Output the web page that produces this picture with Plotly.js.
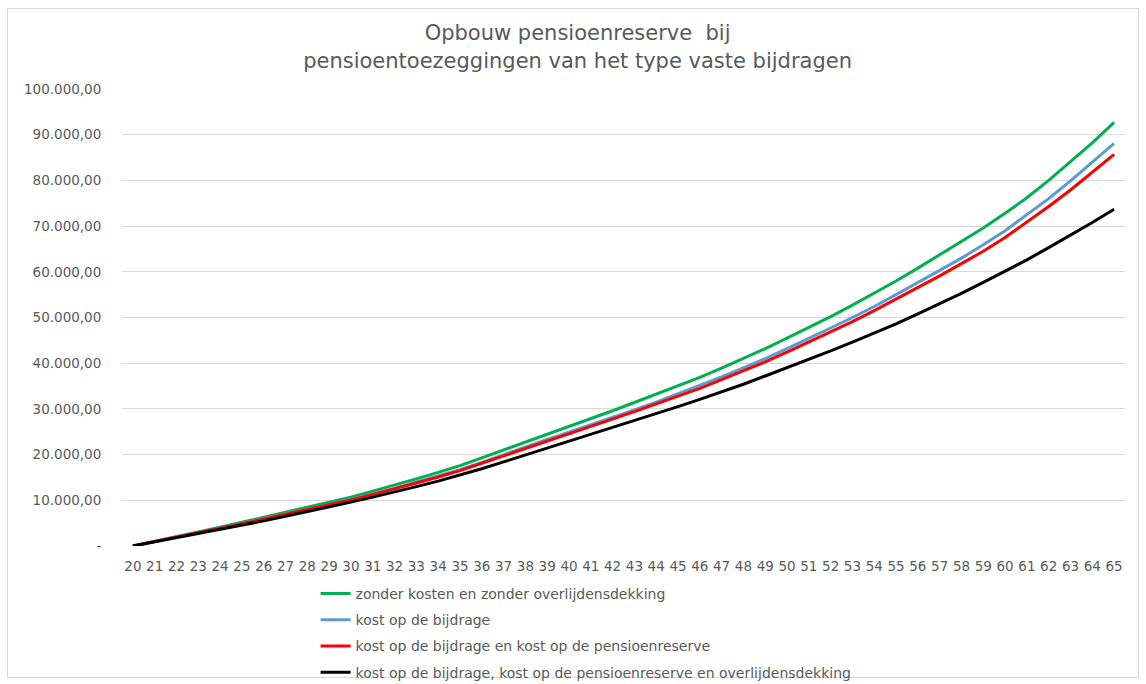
<!DOCTYPE html>
<html>
<head>
<meta charset="utf-8">
<script src="https://cdn.plot.ly/plotly-3.0.1.min.js"></script>
<style>
  html, body { margin: 0; padding: 0; background: #ffffff; }
  #frame { position: absolute; left: 7px; top: 8px; width: 1132px; height: 670px; border: 1px solid #d9d9d9; box-sizing: border-box; }
  #chart { position: absolute; left: 0; top: 0; width: 1146px; height: 684px; }
</style>
</head>
<body>
<div id="frame"></div>
<div id="chart"></div>
<script>
// Ages (x categories)
const ages = [20,21,22,23,24,25,26,27,28,29,30,31,32,33,34,35,36,37,38,39,40,41,42,43,44,45,46,47,48,49,50,51,52,53,54,55,56,57,58,59,60,61,62,63,64,65];

// Series values (EUR)
const zonderKosten = [0,1000,2000,3000,4100,5200,6300,7400,8500,9600,10700,12000,13300,14700,16100,17600,19300,21000,22800,24500,26200,27900,29600,31400,33200,35000,36900,38900,41000,43200,45500,47800,50200,52700,55300,58000,60800,63700,66600,69600,72800,76200,80000,84000,88200,92700];
const kostBijdrage = [0,950,1900,2850,3900,4900,6000,7000,8100,9100,10200,11400,12600,14000,15300,16700,18300,20000,21700,23300,24900,26500,28100,29800,31500,33300,35100,37000,39000,41000,43200,45400,47700,50000,52400,55000,57600,60300,63000,65900,69000,72400,76000,79900,83900,88100];
const kostBijdrageReserve = [0,950,1900,2850,3850,4900,5900,6950,8000,9000,10100,11300,12500,13800,15100,16500,18100,19700,21300,22900,24500,26100,27700,29400,31100,32800,34500,36400,38300,40300,42400,44600,46800,49100,51500,54000,56600,59100,61800,64500,67500,70900,74300,77900,81700,85700];
const kostAlles = [0,900,1800,2700,3600,4500,5500,6500,7500,8500,9600,10700,11800,13000,14200,15500,16900,18400,19900,21400,23000,24500,26000,27500,29000,30500,32100,33700,35400,37200,39000,40800,42700,44600,46600,48600,50800,53000,55300,57700,60100,62600,65300,68000,70800,73700];

const seriesNames = [
  'zonder kosten en zonder overlijdensdekking',
  'kost op de bijdrage',
  'kost op de bijdrage en kost op de pensioenreserve',
  'kost op de bijdrage, kost op de pensioenreserve en overlijdensdekking'
];
const seriesColors = ['#00B050', '#5B9BD5', '#FF0000', '#000000'];

// Y-axis ticks
const yTickVals = [0,10000,20000,30000,40000,50000,60000,70000,80000,90000,100000];
const yTickText = ['-','10.000,00','20.000,00','30.000,00','40.000,00','50.000,00','60.000,00','70.000,00','80.000,00','90.000,00','100.000,00'];

const titleText = 'Opbouw pensioenreserve  bij<br>pensioentoezeggingen van het type vaste bijdragen';

const allSeries = [zonderKosten, kostBijdrage, kostBijdrageReserve, kostAlles];
const traces = allSeries.map((vals, i) => ({
  type: 'scatter',
  mode: 'lines',
  x: ages,
  y: vals,
  name: seriesNames[i],
  legendgroup: 'g' + i,
  line: { color: seriesColors[i], width: 3 },
  hoverinfo: 'skip'
}));

const fontFam = '"DejaVu Sans", "Liberation Sans", sans-serif';
const grey = '#595959';

const layout = {
  width: 1146,
  height: 684,
  paper_bgcolor: 'rgba(0,0,0,0)',
  plot_bgcolor: 'rgba(0,0,0,0)',
  margin: { l: 122, r: 21, t: 89, b: 138, autoexpand: false },
  title: {
    text: titleText,
    font: { family: fontFam, size: 21, color: grey },
    x: 0.504, xref: 'container', xanchor: 'center',
    y: 0.941, yref: 'container', yanchor: 'top'
  },
  showlegend: true,
  legend: {
    orientation: 'v',
    x: 0.193, xanchor: 'left',
    y: -0.07, yanchor: 'top',
    font: { family: fontFam, size: 14, color: grey },
    tracegroupgap: 5,
    traceorder: 'grouped',
    bgcolor: 'rgba(0,0,0,0)'
  },
  xaxis: {
    type: 'linear',
    range: [19.5, 65.5],
    tickmode: 'array',
    tickvals: ages,
    ticktext: ages.map(String),
    showgrid: false,
    zeroline: false,
    showline: false,
    ticks: 'outside',
    ticklen: 8,
    tickcolor: 'rgba(0,0,0,0)',
    tickfont: { family: fontFam, size: 13.5, color: grey },
    fixedrange: true
  },
  yaxis: {
    range: [0, 100000],
    tickmode: 'array',
    tickvals: yTickVals,
    ticktext: yTickText,
    showgrid: true,
    gridcolor: '#d9d9d9',
    gridwidth: 1,
    zeroline: false,
    showline: false,
    ticks: 'outside',
    ticklen: 17,
    tickcolor: 'rgba(0,0,0,0)',
    tickfont: { family: fontFam, size: 13.5, color: grey },
    fixedrange: true
  }
};

Plotly.newPlot('chart', traces, layout, { displayModeBar: false, staticPlot: true });
</script>
</body>
</html>
